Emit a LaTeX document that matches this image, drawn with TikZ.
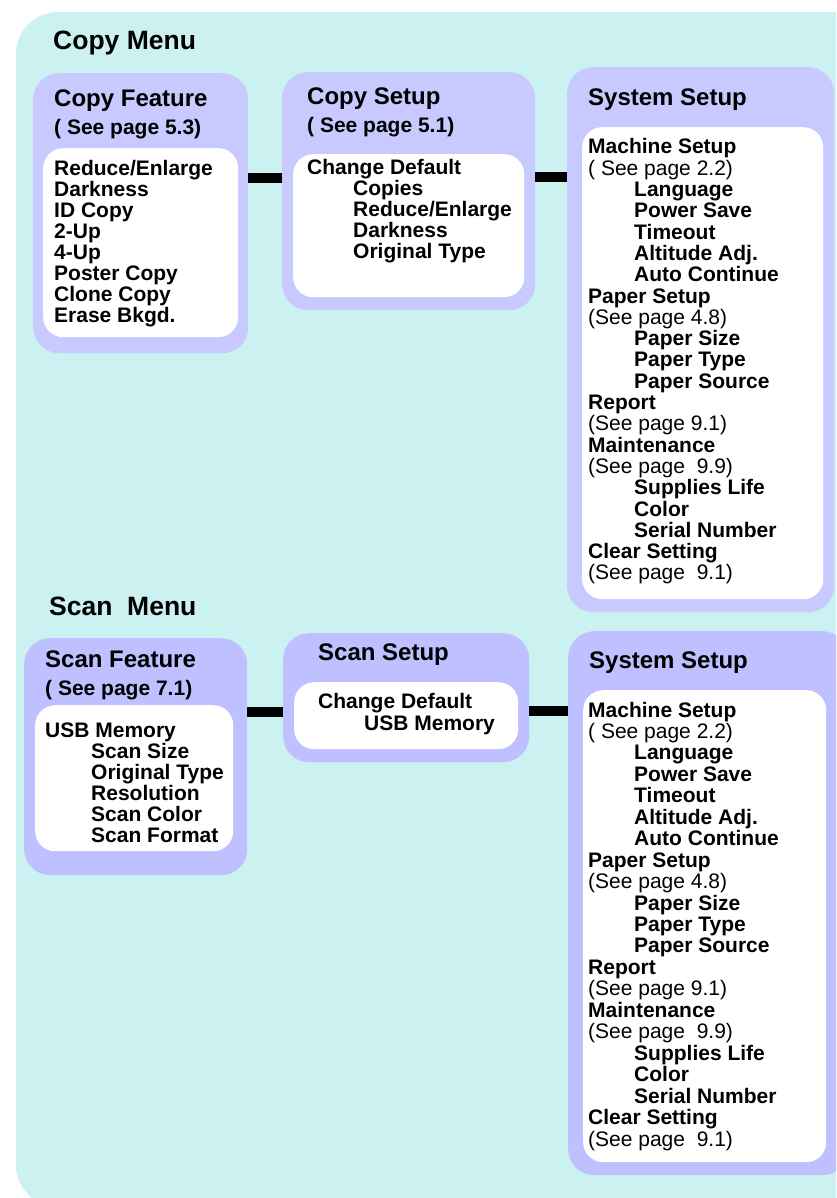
\documentclass[tikz,border=0pt]{standalone}
\usepackage{fontspec}
\setmainfont{Liberation Sans}
\usepackage{xcolor}
\usepackage{tikz}
\usetikzlibrary{positioning, backgrounds}
\definecolor{MenuCyan}{RGB}{203, 241, 240}
\definecolor{CopyLav}{RGB}{200, 202, 255}
\definecolor{ScanLav}{RGB}{190, 192, 255}
\tikzset{
	lavbox/.style={fill=#1, draw=none, rounded corners=26pt, anchor=north west, inner sep=0pt},
	whitebox/.style={fill=white, draw=none, rounded corners=20pt, anchor=north west, inner sep=0pt},
	linkbar/.style={line width=10pt, draw=black},
	menuhead/.style={anchor=base west, inner sep=0pt, font=\fontsize{26.5pt}{28pt}\selectfont\bfseries},
	boxhead/.style={anchor=base west, inner sep=0pt, font=\fontsize{24pt}{26pt}\selectfont\bfseries},
	menutext/.style={anchor=base west, inner sep=0pt, font=\fontsize{21pt}{21.3pt}\selectfont\bfseries},
}
\newcommand{\itm}[1]{\hbox{#1}}
\newcommand{\subitm}[1]{\hbox{\hskip46pt #1}}
\newcommand{\seepg}[1]{\hbox{\mdseries #1}}
\newcommand{\menulist}[2]{\vtop{\baselineskip=#1\lineskiplimit=-50pt #2}}

\begin{document}
\begin{tikzpicture}[x=1pt, y=-1pt]
		\useasboundingbox (0,0) rectangle (836,1198);
		\clip (0,0) rectangle (836,1198);
		\fill[MenuCyan, rounded corners=42pt] (16,12) rectangle (900,1207);

		% copy menu
		\node[menuhead] (copyhead) at (53,50) {Copy Menu};

		\node[lavbox=CopyLav, minimum width=215pt, minimum height=280pt] (copyfeat) at (33,73) {};
		\node[whitebox, minimum width=195pt, minimum height=189pt] (copyfeatin) at (43,148) {};
		\node[boxhead] (copyfeattitle) at (54,107) {Copy Feature};
		\node[menutext] (copyfeatpage) at (54,135) {( See page 5.3)};
		\node[menutext] (copyfeatlist) at (54,176) {\menulist{21pt}{%
			\itm{Reduce/Enlarge}\itm{Darkness}\itm{ID Copy}\itm{2-Up}\itm{4-Up}%
			\itm{Poster Copy}\itm{Clone Copy}\itm{Erase Bkgd.}}};

		\node[lavbox=CopyLav, minimum width=253pt, minimum height=238pt] (copyset) at (282,72) {};
		\node[whitebox, minimum width=231pt, minimum height=143pt] (copysetin) at (293,154) {};
		\node[boxhead] (copysettitle) at (307,105) {Copy Setup};
		\node[menutext] (copysetpage) at (307,133) {( See page 5.1)};
		\node[menutext] (copysetlist) at (307,175) {\menulist{21pt}{%
			\itm{Change Default}\subitm{Copies}\subitm{Reduce/Enlarge}%
			\subitm{Darkness}\subitm{Original Type}}};

		\node[lavbox=CopyLav, minimum width=267pt, minimum height=545pt] (syscopy) at (567,67) {};
		\node[whitebox, minimum width=241pt, minimum height=472pt] (syscopyin) at (582,127) {};
		\node[boxhead] (syscopytitle) at (588,106) {System Setup};
		\node[menutext] (syscopylist) at (588,154) {\menulist{21.3pt}{%
			\itm{Machine Setup}\seepg{( See page 2.2)}\subitm{Language}\subitm{Power Save}%
			\subitm{Timeout}\subitm{Altitude Adj.}\subitm{Auto Continue}%
			\itm{Paper Setup}\seepg{(See page 4.8)}\subitm{Paper Size}\subitm{Paper Type}%
			\subitm{Paper Source}\itm{Report}\seepg{(See page 9.1)}%
			\itm{Maintenance}\seepg{(See page\ \ 9.9)}\subitm{Supplies Life}\subitm{Color}%
			\subitm{Serial Number}\itm{Clear Setting}\seepg{(See page\ \ 9.1)}}};

		\coordinate (copylink1) at (0,178);
		\coordinate (copylink2) at (0,177);
		\draw[linkbar] (copyfeat.east |- copylink1) -- (copyset.west |- copylink1);
		\draw[linkbar] (copyset.east |- copylink2) -- (syscopy.west |- copylink2);

		% scan menu
		\node[menuhead] (scanhead) at (49,615) {Scan\ \ Menu};

		\node[lavbox=ScanLav, minimum width=223pt, minimum height=237pt] (scanfeat) at (24,638) {};
		\node[whitebox, minimum width=198pt, minimum height=146pt] (scanfeatin) at (35,705) {};
		\node[boxhead] (scanfeattitle) at (45,667) {Scan Feature};
		\node[menutext] (scanfeatpage) at (45,695) {( See page 7.1)};
		\node[menutext] (scanfeatlist) at (45,737) {\menulist{21pt}{%
			\itm{USB Memory}\subitm{Scan Size}\subitm{Original Type}%
			\subitm{Resolution}\subitm{Scan Color}\subitm{Scan Format}}};

		\node[lavbox=ScanLav, minimum width=246pt, minimum height=129pt] (scanset) at (283,633) {};
		\node[whitebox, minimum width=224pt, minimum height=67pt] (scansetin) at (294,682) {};
		\node[boxhead] (scansettitle) at (318,660) {Scan Setup};
		\node[menutext] (scansetlist) at (318,708) {\menulist{22pt}{%
			\itm{Change Default}\subitm{USB Memory}}};

		\node[lavbox=ScanLav, minimum width=280pt, minimum height=544pt] (sysscan) at (568,631) {};
		\node[whitebox, minimum width=243pt, minimum height=472pt] (sysscanin) at (583,690) {};
		\node[boxhead] (sysscantitle) at (589,668) {System Setup};
		\node[menutext] (sysscanlist) at (588,717) {\menulist{21.45pt}{%
			\itm{Machine Setup}\seepg{( See page 2.2)}\subitm{Language}\subitm{Power Save}%
			\subitm{Timeout}\subitm{Altitude Adj.}\subitm{Auto Continue}%
			\itm{Paper Setup}\seepg{(See page 4.8)}\subitm{Paper Size}\subitm{Paper Type}%
			\subitm{Paper Source}\itm{Report}\seepg{(See page 9.1)}%
			\itm{Maintenance}\seepg{(See page\ \ 9.9)}\subitm{Supplies Life}\subitm{Color}%
			\subitm{Serial Number}\itm{Clear Setting}\seepg{(See page\ \ 9.1)}}};

		\coordinate (scanlink1) at (0,712);
		\coordinate (scanlink2) at (0,711);
		\draw[linkbar] (scanfeat.east |- scanlink1) -- (scanset.west |- scanlink1);
		\draw[linkbar] (scanset.east |- scanlink2) -- (sysscan.west |- scanlink2);
	\end{tikzpicture}
\end{document}
